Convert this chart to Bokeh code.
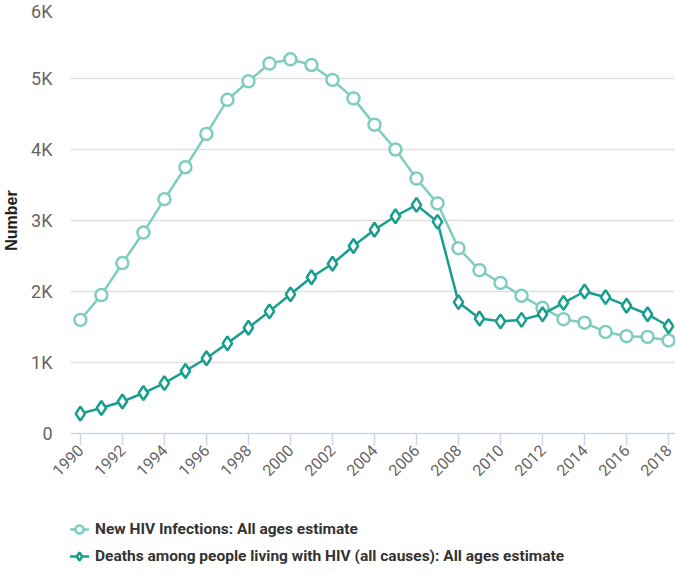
import math
from bokeh.plotting import figure
from bokeh.layouts import column
from bokeh.models import (ColumnDataSource, Range1d, FixedTicker, Legend, LegendItem,
                          CustomJSTickFormatter)
from bokeh.embed import file_html
from bokeh.resources import INLINE

years = list(range(1990, 2019))
infections = [1600, 1950, 2400, 2830, 3300, 3750, 4220, 4700, 4960, 5210,
              5270, 5190, 4980, 4720, 4350, 4000, 3590, 3240, 2610, 2300,
              2120, 1940, 1770, 1610, 1560, 1430, 1370, 1360, 1310]
deaths = [280, 360, 450, 570, 710, 880, 1060, 1270, 1490, 1720,
          1960, 2200, 2390, 2640, 2870, 3060, 3220, 2980, 1850, 1620,
          1580, 1600, 1680, 1840, 2000, 1920, 1800, 1680, 1510]
series_names = ["New HIV Infections: All ages estimate",
                "Deaths among people living with HIV (all causes): All ages estimate"]
y_ticks = [0, 1000, 2000, 3000, 4000, 5000, 6000]
x_ticks = list(range(1990, 2019, 2))

c_inf = "#7fcdc1"
c_dea = "#189e8e"

src = ColumnDataSource(dict(year=years, inf=infections, dea=deaths))

p = figure(width=675, height=495, output_backend="svg", toolbar_location=None,
           x_range=Range1d(1989.53, 2018.33), y_range=Range1d(0, 6000),
           min_border_left=60, min_border_right=0, min_border_top=7,
           min_border_bottom=62)
p.outline_line_color = None
p.background_fill_color = "white"

l1 = p.line("year", "inf", source=src, line_color=c_inf, line_width=2.5)
s1 = p.scatter("year", "inf", source=src, marker="circle", size=12,
               fill_color="white", line_color=c_inf, line_width=2.5)
l2 = p.line("year", "dea", source=src, line_color=c_dea, line_width=2.5)
s2 = p.scatter("year", "dea", source=src, marker="diamond", size=14,
               fill_color="white", line_color=c_dea, line_width=2.5)

# y axis
p.yaxis.ticker = FixedTicker(ticks=y_ticks)
p.yaxis.formatter = CustomJSTickFormatter(code="return tick == 0 ? '0' : (tick/1000) + 'K';")
p.yaxis.axis_line_color = None
p.yaxis.major_tick_line_color = None
p.yaxis.minor_tick_line_color = None
p.yaxis.major_label_text_font = "Roboto"
p.yaxis.major_label_text_font_size = "18px"
p.yaxis.major_label_text_color = "#666666"
p.yaxis.major_label_standoff = 12
p.yaxis.axis_label = "Number"
p.yaxis.axis_label_text_font = "Liberation Sans"
p.yaxis.axis_label_text_font_style = "bold"
p.yaxis.axis_label_text_font_size = "16px"
p.yaxis.axis_label_text_color = "#222222"
p.yaxis.axis_label_standoff = 8

p.ygrid.ticker = FixedTicker(ticks=y_ticks)
p.ygrid.grid_line_color = "#e0e0e0"
p.ygrid.grid_line_width = 1.5
p.xgrid.grid_line_color = None

# x axis
p.xaxis.ticker = FixedTicker(ticks=x_ticks)
p.xaxis.axis_line_color = "#ccd6eb"
p.xaxis.axis_line_width = 1.5
p.xaxis.major_tick_line_color = "#ccd6eb"
p.xaxis.major_tick_line_width = 1.5
p.xaxis.major_tick_in = 0
p.xaxis.major_tick_out = 12
p.xaxis.minor_tick_line_color = None
p.xaxis.major_label_orientation = math.pi / 4
p.xaxis.major_label_text_font = "Roboto"
p.xaxis.major_label_text_font_size = "16px"
p.xaxis.major_label_text_color = "#666666"
p.xaxis.major_label_standoff = 2

# legend figure (below the chart)
q = figure(width=675, height=72, output_backend="svg", toolbar_location=None,
           x_axis_type=None, y_axis_type=None, x_range=Range1d(0, 1), y_range=Range1d(0, 1),
           min_border=0)
q.outline_line_color = None
q.xgrid.grid_line_color = None
q.ygrid.grid_line_color = None
dl1 = q.line(x=[-10, -9], y=[-10, -9], line_color=c_inf, line_width=2.5)
ds1 = q.scatter(x=[-10], y=[-10], marker="circle", size=11, fill_color="white",
                line_color=c_inf, line_width=2.5)
dl2 = q.line(x=[-10, -9], y=[-10, -9], line_color=c_dea, line_width=2.5)
ds2 = q.scatter(x=[-10], y=[-10], marker="diamond", size=13, fill_color="white",
                line_color=c_dea, line_width=2.5)

legend = Legend(items=[LegendItem(label=series_names[0], renderers=[dl1, ds1]),
                       LegendItem(label=series_names[1], renderers=[dl2, ds2])],
                orientation="vertical", location=(-1, 1))
legend.label_text_font = "Roboto"
legend.label_text_font_style = "bold"
legend.label_text_font_size = "15.5px"
legend.label_text_color = "#333333"
legend.border_line_color = None
legend.background_fill_alpha = 0
legend.glyph_width = 20
legend.glyph_height = 20
legend.label_height = 20
legend.spacing = 7
legend.label_standoff = 6
legend.padding = 0
legend.margin = 0
q.add_layout(legend, "center")

layout = column(p, q, spacing=0)
open("out.html", "w").write(file_html(layout, INLINE))
